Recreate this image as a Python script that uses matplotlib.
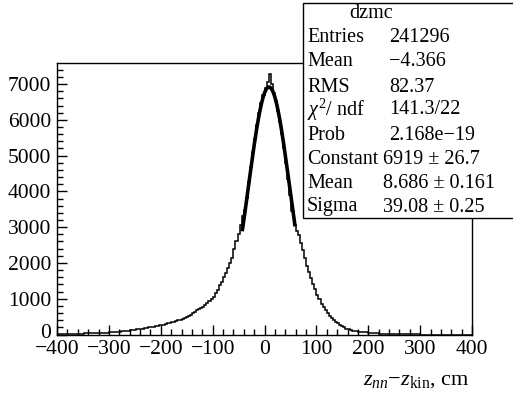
import numpy as np
import matplotlib
matplotlib.use("Agg")
import matplotlib.pyplot as plt
import matplotlib.transforms as mtransforms
from matplotlib.patches import Rectangle
from matplotlib.ticker import MultipleLocator, FuncFormatter

plt.rcParams['font.family'] = ['Liberation Serif', 'DejaVu Serif']
plt.rcParams['mathtext.fontset'] = 'custom'
plt.rcParams['mathtext.rm'] = 'Liberation Serif'
plt.rcParams['mathtext.it'] = 'Liberation Serif:italic'

# histogram: 200 bins of 4 cm from -400 to 400
bin_edges = np.arange(-400, 404, 4)
counts = [
    # -400 .. -300
    15, 20, 12, 18, 22, 16, 20, 25, 18, 22, 10, 5, 15, 28, 30, 35, 32, 38, 42, 40, 45, 48, 52, 50, 55,
    # -300 .. -200
    58, 62, 65, 72, 78, 82, 88, 95, 100, 105, 112, 120, 128, 140, 148, 158, 165, 175, 188, 200, 210, 222, 232, 242, 252,
    # -200 .. -100
    262, 278, 295, 310, 330, 345, 362, 380, 398, 415, 438, 462, 485, 520, 555, 590, 640, 680, 700, 740, 770, 820, 880, 930, 1000,
    # -100 .. -40
    1060, 1150, 1250, 1370, 1470, 1600, 1730, 1850, 2000, 2150, 2380, 2620, 2820, 3050, 3300,
    # -40 .. 60
    3480, 3820, 4250, 4680, 5090, 5470, 5860, 6180, 6460, 6690, 6880, 7050, 7280, 7000, 6760,
    6540, 6260, 5950, 5600, 5210, 4800, 4360, 3900, 3460, 3060,
    # 60 .. 200
    2900, 2780, 2560, 2370, 2150, 1920, 1760, 1580, 1420, 1260, 1100, 980, 860, 760, 680,
    600, 530, 470, 410, 350, 310, 270, 240, 210, 165, 150, 130, 110, 95, 85, 80, 75, 70, 66, 62,
    # 200 .. 300
    55, 48, 42, 35, 28, 22, 18, 14, 10, 8, 6, 5, 4, 3, 3, 2, 3, 2, 2, 3, 2, 2, 1, 2, 1,
    # 300 .. 400
    0, 0, 0, 0, 0, 0, 0, 0, 0, 0, 0, 0, 0, 0, 0, 0, 0, 0, 0, 0, 0, 0, 0, 0, 0,
]

# gaussian fit parameters (from stats box)
fit_const = 6919
fit_mean = 8.686
fit_sigma = 39.08
fit_range = (-43, 59)

stats_labels = ["Entries", "Mean", "RMS", r"$\chi^2$/ ndf", "Prob", "Constant", "Mean", "Sigma"]
stats_values = ["241296", "\u22124.366", "82.37", "141.3/22", "2.168e\u221219",
                "6919 \u00b1 26.7", "8.686 \u00b1 0.161", "39.08 \u00b1 0.25"]

W, H = 513, 394
fig = plt.figure(figsize=(W / 100, H / 100), dpi=100)
ax = fig.add_axes([57 / W, 1 - 334.5 / H, (472 - 57) / W, (334.5 - 63) / H])

ax.stairs(counts, bin_edges, color='black', lw=1.1)

xf = np.linspace(fit_range[0], fit_range[1], 300)
yf = fit_const * np.exp(-0.5 * ((xf - fit_mean) / fit_sigma) ** 2)
ax.plot(xf, yf, color='black', lw=2.6, solid_capstyle='butt')

ax.set_xlim(-400, 400)
ax.set_ylim(0, 7590)
ax.xaxis.set_major_locator(MultipleLocator(100))
ax.xaxis.set_minor_locator(MultipleLocator(20))
ax.yaxis.set_major_locator(MultipleLocator(1000))
ax.yaxis.set_minor_locator(MultipleLocator(200))
fmt = FuncFormatter(lambda v, p: ("%d" % v).replace("-", "\u2212"))
ax.xaxis.set_major_formatter(fmt)
ax.yaxis.set_major_formatter(fmt)
ax.tick_params(which='both', direction='in', top=False, right=False, labelsize=15.5, width=1, color='black')
ax.tick_params(axis='x', which='major', length=7, pad=4)
ax.tick_params(axis='x', which='minor', length=4)
ax.tick_params(axis='y', which='major', length=7, pad=4)
ax.tick_params(axis='y', which='minor', length=4)
for s in ax.spines.values():
    s.set_linewidth(1.0)

# lift the "0" label a touch so it clears the "-400" below it
fig.canvas.draw()
lift = mtransforms.ScaledTranslation(0, 3 / 100, fig.dpi_scale_trans)
for lbl in ax.get_yticklabels():
    if lbl.get_text() == "0":
        lbl.set_transform(lbl.get_transform() + lift)

fig.text(470 / W, 1 - 380 / H, "$z_{nn}$\u2212$z_{\\mathrm{kin}}$, cm",
         ha='right', va='center', fontsize=16)

# stats box
fig.add_artist(Rectangle((303 / W, 1 - 218 / H), 1.0, 215 / H, transform=fig.transFigure,
                         facecolor='white', edgecolor='black', lw=1.0, zorder=5))
fig.text(371 / W, 1 - 13 / H, "dzmc", ha='center', va='center', fontsize=14.5, zorder=6)
row_y = [38, 62, 87, 110, 135, 160, 183, 207]
for i, (lab, val) in enumerate(zip(stats_labels, stats_values)):
    y = 1 - row_y[i] / H
    fig.text(307 / W, y, lab, ha='left', va='center', fontsize=14.5, zorder=6)
    vx = 389 if i < 5 else 383
    fig.text(vx / W, y, val, ha='left', va='center', fontsize=14.5, zorder=6)

fig.savefig("out.png", dpi=100)
